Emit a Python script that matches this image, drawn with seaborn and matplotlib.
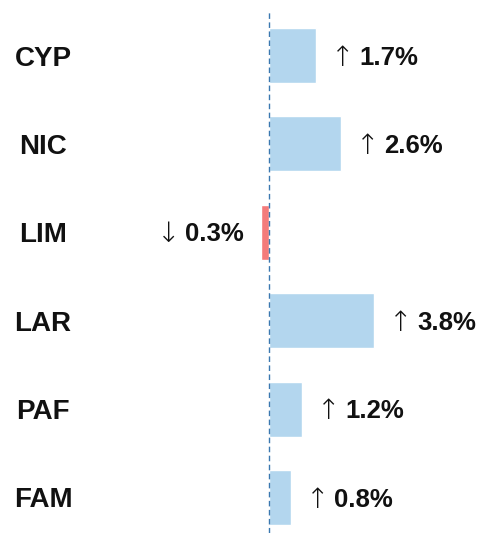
import matplotlib
matplotlib.use("Agg")
import matplotlib.pyplot as plt
import seaborn as sns
from matplotlib.offsetbox import TextArea, HPacker, AnnotationBbox

categories = ["CYP", "NIC", "LIM", "LAR", "PAF", "FAM"]
changes = [1.7, 2.6, -0.3, 3.8, 1.2, 0.8]

sns.set_style("white")
plt.rcParams["font.family"] = ["Liberation Sans", "DejaVu Sans"]

blue = "#b3d6ee"
red = "#f47b7b"
palette = [blue if v >= 0 else red for v in changes]

fig = plt.figure(figsize=(4.78, 5.33), dpi=100)
ax = fig.add_axes([150 / 478, 0, 320 / 478, 1 - 10 / 533])

sns.barplot(x=changes, y=categories, hue=categories, palette=palette,
            width=0.62, saturation=1, legend=False, ax=ax, orient="h")

ax.axvline(0, color="#3a78b0", linestyle="--", linewidth=1, dashes=(4, 2.5))

ax.set_xlim(-119 / 27.6, 201 / 27.6)
ax.set_ylim(5 + 35.5 / 88.4, -45.5 / 88.4)
ax.set_xticks([])
ax.set_xlabel("")
ax.set_ylabel("")
sns.despine(ax=ax, left=True, bottom=True)

ax.tick_params(axis="y", length=0, pad=77)
for lbl in ax.get_yticklabels():
    lbl.set_ha("center")
    lbl.set_fontweight("bold")
    lbl.set_fontsize(20)
    lbl.set_color("#111111")

# value labels: thin arrow + bold number
for i, v in enumerate(changes):
    arrow = "\u2191" if v >= 0 else "\u2193"
    arr = TextArea(arrow, textprops=dict(fontsize=20, color="#111111",
                                         family=["DejaVu Sans"], fontweight="light"))
    num = TextArea(f"{abs(v):.1f}%", textprops=dict(fontsize=18.5, color="#111111",
                                                   fontweight="bold"))
    box = HPacker(children=[arr, num], align="center", pad=0, sep=3.5)
    if v >= 0:
        ab = AnnotationBbox(box, (v, i), xybox=(11, -1.5), xycoords="data",
                            boxcoords="offset points", box_alignment=(0, 0.5),
                            frameon=False, pad=0)
    else:
        ab = AnnotationBbox(box, (v, i), xybox=(-12, -1.5), xycoords="data",
                            boxcoords="offset points", box_alignment=(1, 0.5),
                            frameon=False, pad=0)
    ax.add_artist(ab)

fig.savefig("out.png", dpi=100)
